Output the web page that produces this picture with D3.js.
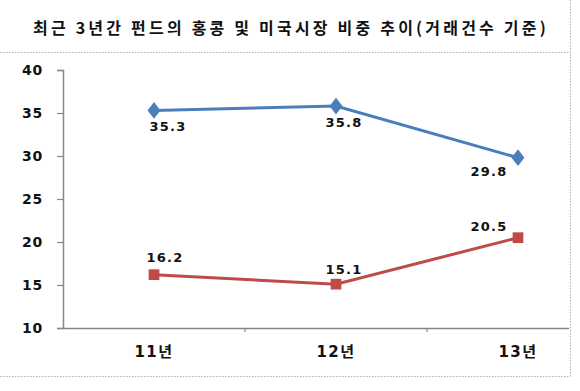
<!DOCTYPE html>
<html>
<head>
<meta charset="utf-8">
<script src="https://cdn.jsdelivr.net/npm/d3@7"></script>
<style>
  body { margin: 0; background: #fff; }
  text { font-family: "DejaVu Sans", "Noto Sans CJK KR", sans-serif; }
</style>
</head>
<body>
<div id="chart"></div>
<script>
const title = "최근 3년간 펀드의 홍콩 및 미국시장 비중 추이(거래건수 기준)";
const years = ["11년", "12년", "13년"];
const hongkong = [35.3, 35.8, 29.8];
const usa = [16.2, 15.1, 20.5];
const yTicks = [10, 15, 20, 25, 30, 35, 40];

const width = 580, height = 391;
const svg = d3.select("#chart").append("svg")
  .attr("width", width).attr("height", height);

// title + dotted frame
svg.append("text")
  .attr("x", 291).attr("y", 34)
  .attr("text-anchor", "middle")
  .style("font-family", "'Noto Sans CJK KR', sans-serif")
  .style("font-weight", "bold")
  .style("font-size", "16px")
  .style("letter-spacing", "3.2px")
  .attr("fill", "#111")
  .text(title);

const frame = svg.append("g")
  .attr("stroke", "#b9a9ad").attr("stroke-width", 1)
  .attr("stroke-dasharray", "1.5,1.5").attr("fill", "none");
frame.append("line").attr("x1", 0).attr("x2", 570).attr("y1", 52.5).attr("y2", 52.5);
frame.append("line").attr("x1", 0).attr("x2", 570).attr("y1", 376.5).attr("y2", 376.5);
frame.append("line").attr("x1", 570.5).attr("x2", 570.5).attr("y1", 0).attr("y2", 377);

// scales
const x = d3.scaleBand().domain(years).range([63, 609]);
const y = d3.scaleLinear().domain([10, 40]).range([328, 70]);
const cx = d => x(d) + x.bandwidth() / 2;

svg.append("defs").append("clipPath").attr("id", "plotclip")
  .append("rect").attr("x", 0).attr("y", 0).attr("width", 569).attr("height", height);

const g = svg.append("g").attr("clip-path", "url(#plotclip)");

// axes
const yAxis = g.append("g")
  .attr("transform", "translate(63,0)")
  .call(d3.axisLeft(y).tickValues(yTicks).tickSize(6).tickPadding(14));
yAxis.select(".domain").attr("stroke", "#868686").attr("stroke-width", 1.5);
yAxis.selectAll(".tick line").attr("stroke", "#868686").attr("stroke-width", 1.2);
yAxis.selectAll(".tick text")
  .style("font-size", "14px").style("font-weight", "bold")
  .style("letter-spacing", "0.8px").attr("fill", "#111");

const xAxis = g.append("g")
  .attr("transform", "translate(0,328)")
  .call(d3.axisBottom(x).tickSize(0).tickSizeOuter(0).tickPadding(18));
xAxis.select(".domain").attr("stroke", "#868686").attr("stroke-width", 1.5);
xAxis.selectAll(".tick text")
  .style("font-size", "15px").style("font-weight", "bold")
  .style("letter-spacing", "1.5px").attr("fill", "#111");
// category separators
xAxis.selectAll(".sep").data(years.slice(1)).enter().append("line")
  .attr("x1", d => x(d)).attr("x2", d => x(d))
  .attr("y1", 0).attr("y2", 4)
  .attr("stroke", "#868686").attr("stroke-width", 1.2);

const line = d3.line().x((d, i) => cx(years[i])).y(d => y(d));

const series = [
  { vals: hongkong, color: "#4a7ebb", shape: d3.symbolDiamond, size: 100,
    dx: [14, 8, -29], dy: [21, 21, 18] },
  { vals: usa, color: "#be4b48", shape: d3.symbolSquare, size: 115,
    dx: [11, 8, -29], dy: [-13, -10, -7] }
];

series.forEach(s => {
  g.append("path").datum(s.vals)
    .attr("d", line).attr("fill", "none")
    .attr("stroke", s.color).attr("stroke-width", 3);
  g.selectAll(null).data(s.vals).enter().append("path")
    .attr("d", d3.symbol().type(s.shape).size(s.size))
    .attr("transform", (d, i) => `translate(${cx(years[i])},${y(d)})` + (s.shape === d3.symbolDiamond ? " scale(1.2,0.9)" : ""))
    .attr("fill", s.color);
  g.selectAll(null).data(s.vals).enter().append("text")
    .attr("x", (d, i) => cx(years[i]) + s.dx[i])
    .attr("y", (d, i) => y(d) + s.dy[i])
    .attr("text-anchor", "middle")
    .style("font-size", "13px").style("font-weight", "bold")
    .style("letter-spacing", "1.2px")
    .attr("fill", "#111")
    .text(d => d.toFixed(1));
});
</script>
</body>
</html>
